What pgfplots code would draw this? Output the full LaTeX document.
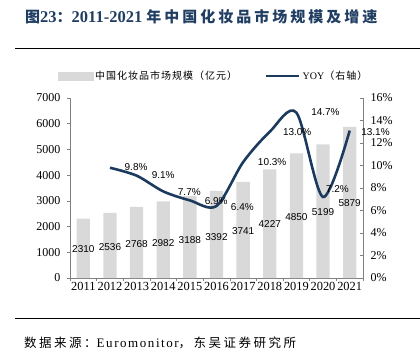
\documentclass[border=0pt]{standalone}
\usepackage{fontspec}
\setmainfont{Liberation Serif}
\newfontfamily\cjk{Noto Sans CJK SC}
\newfontfamily\cjkleg{Noto Sans CJK SC}[LetterSpace=10]
\newfontfamily\cjksrc{Noto Sans CJK SC}[LetterSpace=20]
\newfontfamily\cjktitle{Noto Sans CJK SC}[LetterSpace=20]
\newfontfamily\latsrc{Liberation Serif}[LetterSpace=12]
\newfontfamily\arial{Liberation Sans}
\usepackage{pgfplots}
\usepackage{pgfplotstable}
\pgfplotsset{compat=1.18}
\definecolor{barc}{HTML}{D9D9D9}
\definecolor{navy}{HTML}{1C3A5E}
\definecolor{titleblue}{HTML}{203D62}
\definecolor{axc}{HTML}{808080}

\pgfplotstableread{
x v
0 2310
1 2536
2 2768
3 2982
4 3188
5 3392
6 3741
7 4227
8 4850
9 5199
10 5879
}\bars

\pgfplotstableread{
lx ly lab
0 1128 2310
1 1194 2536
2 1311 2768
3 1373 2982
4 1478 3188
5 1606 3392
6 1832 3741
7 2100 4227
8 2384 4850
9 2578 5199
10 2905 5879
}\barlab

\pgfplotstableread{
x p
1 9.8
2 9.1
3 7.7
4 6.9
5 6.4
6 10.3
7 13.0
8 14.7
9 7.2
10 13.1
}\yoy

\pgfplotstableread{
lx ly p
1.98 9.87 9.8
3.00 9.16 9.1
3.98 7.64 7.7
4.99 6.84 6.9
5.97 6.31 6.4
7.09 10.31 10.3
8.03 12.98 13.0
9.09 14.76 14.7
9.54 7.91 7.2
10.97 12.98 13.1
}\yoylab

\begin{document}
\begin{tikzpicture}[x=1pt,y=1pt]
\path[use as bounding box] (0,0) rectangle (420,359);
% title
\node[anchor=west, inner sep=0pt, text=titleblue, font=\bfseries] at (25,342)
  {{\cjktitle\fontsize{15}{17}\selectfont 图}{\fontsize{16.5}{18}\selectfont 23}{\cjktitle\fontsize{15}{17}\selectfont ：}{\fontsize{16.5}{18}\selectfont 2011-2021 }{\cjktitle\fontsize{15}{17}\selectfont 年中国化妆品市场规模及增速}};
\draw[line width=1.3pt] (15,310.5) -- (420,310.5);
\draw[line width=1.3pt] (15,40.7) -- (420,40.7);
\node[anchor=west, inner sep=0pt] at (24,16)
  {{\cjksrc\fontsize{12.5}{14}\selectfont 数据来源：}{\latsrc\fontsize{13}{14}\selectfont Euromonitor}{\cjksrc\fontsize{12.5}{14}\selectfont ，东吴证券研究所}};

\begin{axis}[
  at={(70pt,81pt)}, anchor=south west,
  scale only axis, width=293pt, height=180pt,
  xmin=-0.5, xmax=10.5, ymin=0, ymax=7000,
  axis x line*=bottom, axis y line*=left,
  axis line style={axc, line width=0.8pt},
  xtick={-0.5,0.5,...,10.5}, xticklabels={},
  extra x ticks={0,1,2,3,4,5,6,7,8,9,10},
  extra x tick labels={2011,2012,2013,2014,2015,2016,2017,2018,2019,2020,2021},
  extra x tick style={major tick length=0pt},
  ytick={0,1000,...,7000},
  tick align=outside, major tick length=3pt,
  tick style={axc, line width=0.6pt},
  xticklabel style={font=\fontsize{12.4}{14}\selectfont, yshift=-1pt},
  yticklabel style={font=\fontsize{12}{14}\selectfont, xshift=-3pt},
  /pgf/number format/1000 sep={},
  /pgf/number format/assume math mode=true,
  clip=false,
]
\addplot[ybar, bar width=13.3pt, bar shift=0pt, fill=barc, draw=none] table[x=x, y=v] {\bars};
\addplot[draw=none, mark=none, nodes near coords, point meta=explicit symbolic,
  every node near coord/.append style={anchor=center, font=\arial\fontsize{10}{12}\selectfont, text=black}]
  table[x=lx, y=ly, meta=lab] {\barlab};
\end{axis}

\begin{axis}[
  at={(70pt,81pt)}, anchor=south west,
  scale only axis, width=293pt, height=180pt,
  xmin=-0.5, xmax=10.5, ymin=0, ymax=16,
  axis x line=none, axis y line*=right,
  axis line style={axc, line width=0.8pt},
  ytick={0,2,...,16},
  yticklabel={\pgfmathprintnumber{\tick}\%},
  tick align=inside, major tick length=3pt,
  tick style={axc, line width=0.6pt},
  yticklabel style={font=\fontsize{12}{14}\selectfont, xshift=4pt},
  /pgf/number format/assume math mode=true,
  clip=false,
  legend style={draw=none, fill=none, at={(0.5,1)}, anchor=center, xshift=-3pt, yshift=22pt,
    legend columns=2, font=\fontsize{10}{12}\selectfont,
    /tikz/every even column/.append style={column sep=26pt}},
  legend cell align=left,
]
\addlegendimage{legend image code/.code={\fill[barc] (0pt,-4pt) rectangle (35pt,4pt);}}
\addlegendentry{\cjkleg 中国化妆品市场规模（亿元）}
\addplot[navy, line width=2.6pt, smooth, mark=none,
  legend image code/.code={\draw[navy, line width=2.6pt] (0pt,0pt) -- (33pt,0pt);}]
  table[x=x, y=p] {\yoy};
\addlegendentry{YOY{\cjkleg （右轴）}}
\addplot[draw=none, mark=none, point meta=explicit,
  nodes near coords={\pgfmathprintnumber[fixed, precision=1, fixed zerofill, assume math mode=true]{\pgfplotspointmeta}\%},
  every node near coord/.append style={anchor=center, font=\arial\fontsize{10}{12}\selectfont, text=black}, forget plot]
  table[x=lx, y=ly, meta=p] {\yoylab};
\end{axis}
\end{tikzpicture}
\end{document}
